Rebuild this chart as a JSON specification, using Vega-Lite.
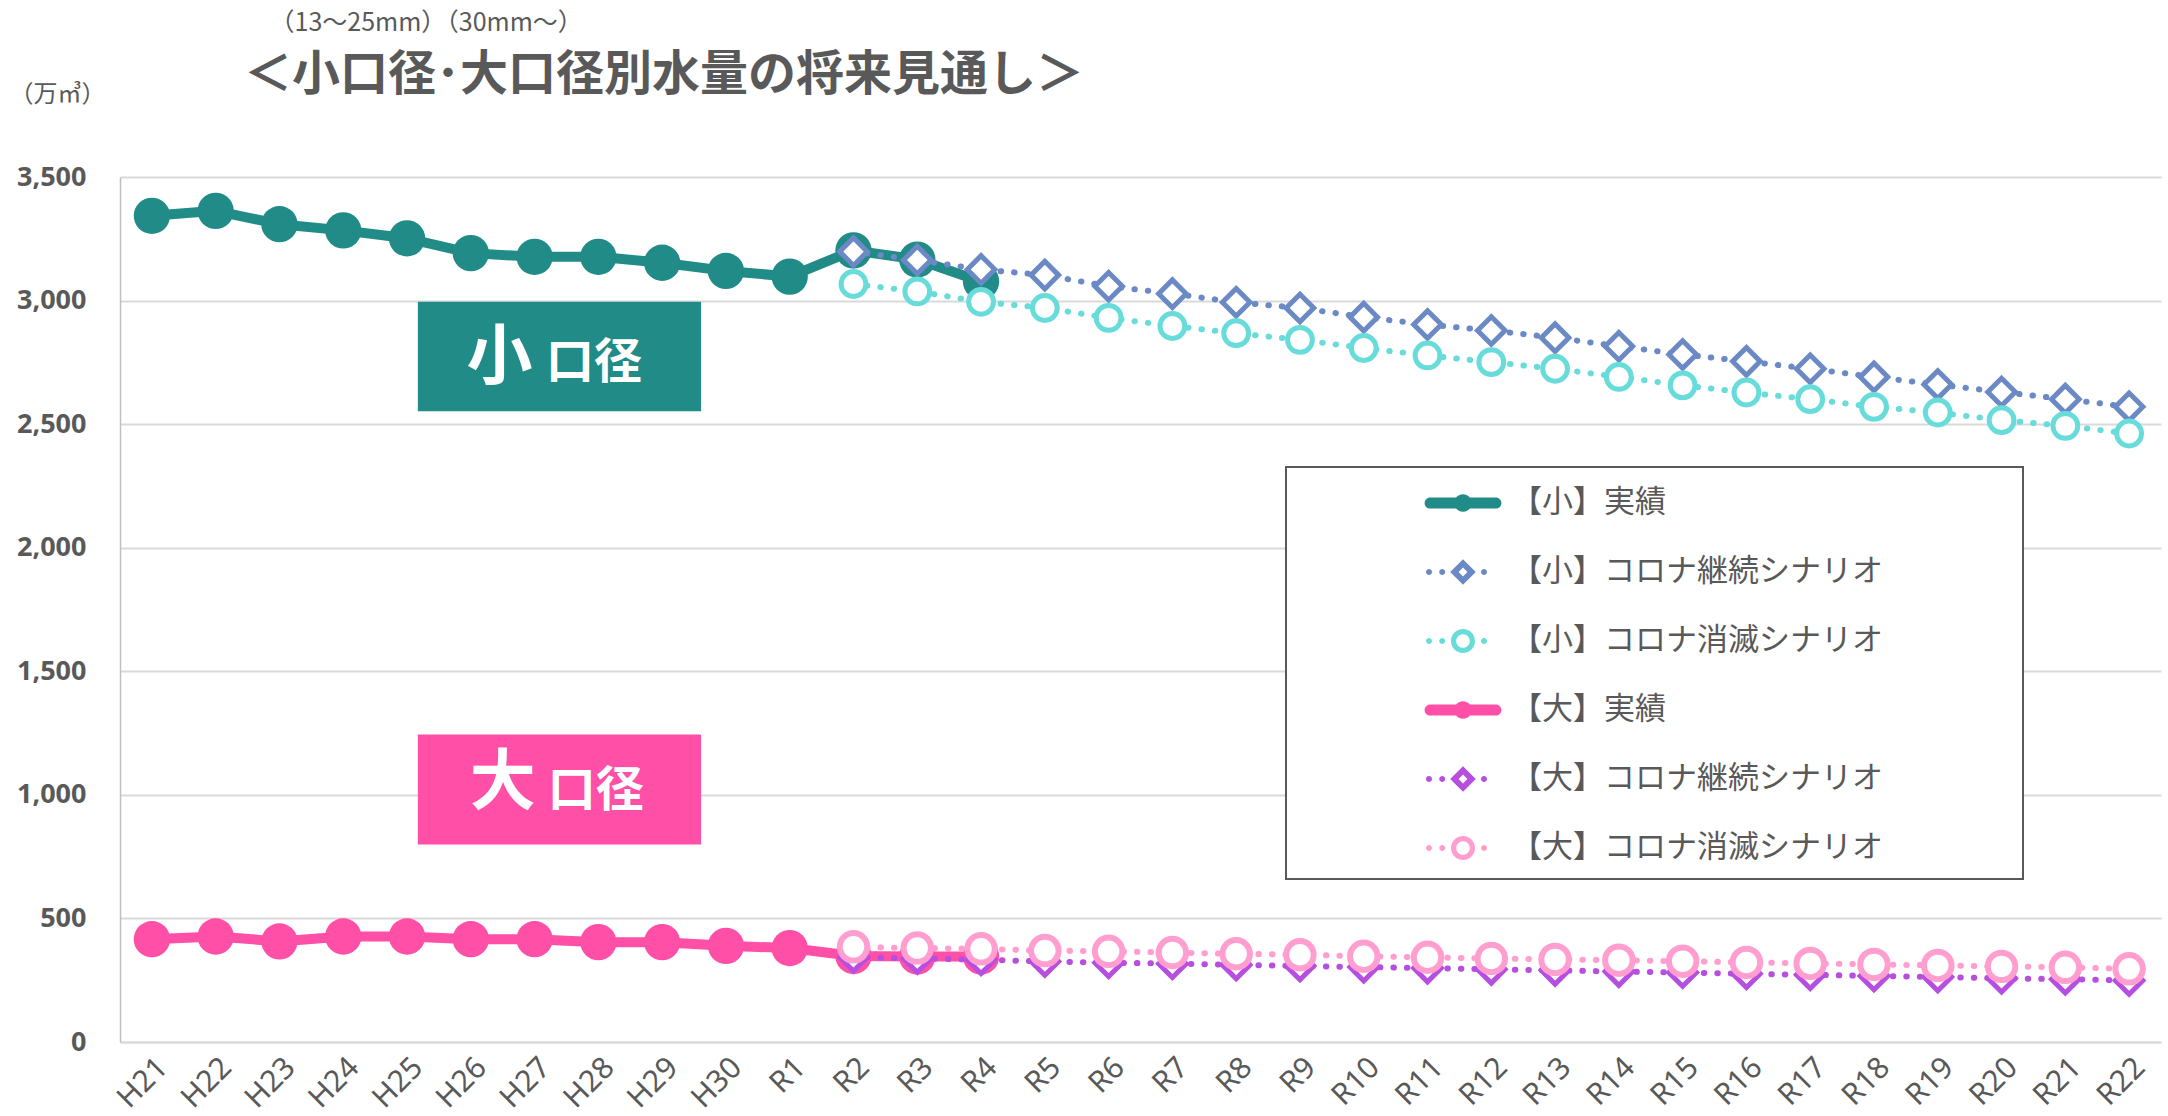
{
  "$schema": "https://vega.github.io/schema/vega-lite/v6.json",
  "width": 2041,
  "height": 865,
  "autosize": {"type": "none"},
  "padding": {"left": 120, "top": 177, "right": 7, "bottom": 74},
  "background": "white",
  "config": {"view": {"stroke": null}, "font": "Noto Sans CJK JP"},
  "title": {
    "text": "＜小口径･大口径別水量の将来見通し＞",
    "anchor": "start",
    "frame": "group",
    "dx": 124,
    "offset": -90,
    "font": "Noto Sans CJK JP",
    "fontSize": 48,
    "fontWeight": "bold",
    "color": "#595959"
  },
  "data": {"values": [
    {"i":0,"series":"【小】実績","v":3343},{"i":1,"series":"【小】実績","v":3363},{"i":2,"series":"【小】実績","v":3309},{"i":3,"series":"【小】実績","v":3284},{"i":4,"series":"【小】実績","v":3252},{"i":5,"series":"【小】実績","v":3192},{"i":6,"series":"【小】実績","v":3177},{"i":7,"series":"【小】実績","v":3177},{"i":8,"series":"【小】実績","v":3153},{"i":9,"series":"【小】実績","v":3120},{"i":10,"series":"【小】実績","v":3097},{"i":11,"series":"【小】実績","v":3203},{"i":12,"series":"【小】実績","v":3166},{"i":13,"series":"【小】実績","v":3077},
    {"i":11,"series":"【小】コロナ継続シナリオ","v":3198},{"i":12,"series":"【小】コロナ継続シナリオ","v":3164},{"i":13,"series":"【小】コロナ継続シナリオ","v":3126},{"i":14,"series":"【小】コロナ継続シナリオ","v":3103},{"i":15,"series":"【小】コロナ継続シナリオ","v":3058},{"i":16,"series":"【小】コロナ継続シナリオ","v":3028},{"i":17,"series":"【小】コロナ継続シナリオ","v":2993},{"i":18,"series":"【小】コロナ継続シナリオ","v":2970},{"i":19,"series":"【小】コロナ継続シナリオ","v":2933},{"i":20,"series":"【小】コロナ継続シナリオ","v":2903},{"i":21,"series":"【小】コロナ継続シナリオ","v":2879},{"i":22,"series":"【小】コロナ継続シナリオ","v":2850},{"i":23,"series":"【小】コロナ継続シナリオ","v":2815},{"i":24,"series":"【小】コロナ継続シナリオ","v":2782},{"i":25,"series":"【小】コロナ継続シナリオ","v":2754},{"i":26,"series":"【小】コロナ継続シナリオ","v":2724},{"i":27,"series":"【小】コロナ継続シナリオ","v":2691},{"i":28,"series":"【小】コロナ継続シナリオ","v":2660},{"i":29,"series":"【小】コロナ継続シナリオ","v":2630},{"i":30,"series":"【小】コロナ継続シナリオ","v":2601},{"i":31,"series":"【小】コロナ継続シナリオ","v":2570},
    {"i":11,"series":"【小】コロナ消滅シナリオ","v":3067},{"i":12,"series":"【小】コロナ消滅シナリオ","v":3037},{"i":13,"series":"【小】コロナ消滅シナリオ","v":2995},{"i":14,"series":"【小】コロナ消滅シナリオ","v":2970},{"i":15,"series":"【小】コロナ消滅シナリオ","v":2930},{"i":16,"series":"【小】コロナ消滅シナリオ","v":2897},{"i":17,"series":"【小】コロナ消滅シナリオ","v":2868},{"i":18,"series":"【小】コロナ消滅シナリオ","v":2841},{"i":19,"series":"【小】コロナ消滅シナリオ","v":2808},{"i":20,"series":"【小】コロナ消滅シナリオ","v":2778},{"i":21,"series":"【小】コロナ消滅シナリオ","v":2751},{"i":22,"series":"【小】コロナ消滅シナリオ","v":2724},{"i":23,"series":"【小】コロナ消滅シナリオ","v":2691},{"i":24,"series":"【小】コロナ消滅シナリオ","v":2657},{"i":25,"series":"【小】コロナ消滅シナリオ","v":2628},{"i":26,"series":"【小】コロナ消滅シナリオ","v":2601},{"i":27,"series":"【小】コロナ消滅シナリオ","v":2570},{"i":28,"series":"【小】コロナ消滅シナリオ","v":2547},{"i":29,"series":"【小】コロナ消滅シナリオ","v":2516},{"i":30,"series":"【小】コロナ消滅シナリオ","v":2493},{"i":31,"series":"【小】コロナ消滅シナリオ","v":2462},
    {"i":0,"series":"【大】実績","v":416},{"i":1,"series":"【大】実績","v":427},{"i":2,"series":"【大】実績","v":407},{"i":3,"series":"【大】実績","v":427},{"i":4,"series":"【大】実績","v":427},{"i":5,"series":"【大】実績","v":416},{"i":6,"series":"【大】実績","v":416},{"i":7,"series":"【大】実績","v":404},{"i":8,"series":"【大】実績","v":404},{"i":9,"series":"【大】実績","v":389},{"i":10,"series":"【大】実績","v":380},{"i":11,"series":"【大】実績","v":348},{"i":12,"series":"【大】実績","v":346},{"i":13,"series":"【大】実績","v":346},
    {"i":11,"series":"【大】コロナ継続シナリオ","v":343},{"i":12,"series":"【大】コロナ継続シナリオ","v":338},{"i":13,"series":"【大】コロナ継続シナリオ","v":333},{"i":14,"series":"【大】コロナ継続シナリオ","v":326},{"i":15,"series":"【大】コロナ継続シナリオ","v":321},{"i":16,"series":"【大】コロナ継続シナリオ","v":317},{"i":17,"series":"【大】コロナ継続シナリオ","v":312},{"i":18,"series":"【大】コロナ継続シナリオ","v":308},{"i":19,"series":"【大】コロナ継続シナリオ","v":303},{"i":20,"series":"【大】コロナ継続シナリオ","v":299},{"i":21,"series":"【大】コロナ継続シナリオ","v":294},{"i":22,"series":"【大】コロナ継続シナリオ","v":290},{"i":23,"series":"【大】コロナ継続シナリオ","v":285},{"i":24,"series":"【大】コロナ継続シナリオ","v":281},{"i":25,"series":"【大】コロナ継続シナリオ","v":276},{"i":26,"series":"【大】コロナ継続シナリオ","v":272},{"i":27,"series":"【大】コロナ継続シナリオ","v":267},{"i":28,"series":"【大】コロナ継続シナリオ","v":263},{"i":29,"series":"【大】コロナ継続シナリオ","v":258},{"i":30,"series":"【大】コロナ継続シナリオ","v":254},{"i":31,"series":"【大】コロナ継続シナリオ","v":249},
    {"i":11,"series":"【大】コロナ消滅シナリオ","v":385},{"i":12,"series":"【大】コロナ消滅シナリオ","v":380},{"i":13,"series":"【大】コロナ消滅シナリオ","v":377},{"i":14,"series":"【大】コロナ消滅シナリオ","v":370},{"i":15,"series":"【大】コロナ消滅シナリオ","v":367},{"i":16,"series":"【大】コロナ消滅シナリオ","v":362},{"i":17,"series":"【大】コロナ消滅シナリオ","v":357},{"i":18,"series":"【大】コロナ消滅シナリオ","v":353},{"i":19,"series":"【大】コロナ消滅シナリオ","v":347},{"i":20,"series":"【大】コロナ消滅シナリオ","v":343},{"i":21,"series":"【大】コロナ消滅シナリオ","v":338},{"i":22,"series":"【大】コロナ消滅シナリオ","v":334},{"i":23,"series":"【大】コロナ消滅シナリオ","v":331},{"i":24,"series":"【大】コロナ消滅シナリオ","v":327},{"i":25,"series":"【大】コロナ消滅シナリオ","v":322},{"i":26,"series":"【大】コロナ消滅シナリオ","v":318},{"i":27,"series":"【大】コロナ消滅シナリオ","v":314},{"i":28,"series":"【大】コロナ消滅シナリオ","v":310},{"i":29,"series":"【大】コロナ消滅シナリオ","v":306},{"i":30,"series":"【大】コロナ消滅シナリオ","v":302},{"i":31,"series":"【大】コロナ消滅シナリオ","v":296}
  ]},
  "encoding": {
    "x": {
      "field": "i", "type": "quantitative",
      "scale": {"domain": [-0.5, 31.5], "nice": false, "zero": false},
      "axis": {
        "values": [0,1,2,3,4,5,6,7,8,9,10,11,12,13,14,15,16,17,18,19,20,21,22,23,24,25,26,27,28,29,30,31],
        "labelExpr": "['H21','H22','H23','H24','H25','H26','H27','H28','H29','H30','R1','R2','R3','R4','R5','R6','R7','R8','R9','R10','R11','R12','R13','R14','R15','R16','R17','R18','R19','R20','R21','R22'][datum.value]",
        "labelAngle": -45,
        "labelFont": "Noto Sans",
        "labelFontSize": 30,
        "labelColor": "#595959",
        "labelPadding": 10,
        "labelOverlap": false,
        "labelBound": false,
        "labelFlush": false,
        "ticks": false,
        "grid": false,
        "domainColor": "#d9d9d9",
        "domainWidth": 2,
        "title": "（13～25mm）（30mm～）",
        "titleX": 149,
        "titleY": -1020,
        "titleAlign": "left",
        "titleBaseline": "middle",
        "titleAngle": 0,
        "titleFont": "Noto Sans CJK JP",
        "titleFontSize": 25,
        "titleFontWeight": "normal",
        "titleColor": "#595959"
      }
    },
    "y": {
      "field": "v", "type": "quantitative",
      "scale": {"domain": [0, 3500], "nice": false},
      "axis": {
        "values": [0,500,1000,1500,2000,2500,3000,3500],
        "format": ",.0f",
        "grid": true,
        "gridColor": "#d9d9d9",
        "gridWidth": 2,
        "domain": true,
        "domainColor": "#bfbfbf",
        "domainWidth": 1.5,
        "ticks": false,
        "labelPadding": 34,
        "labelFont": "Noto Sans",
        "labelFontSize": 27,
        "labelFontWeight": "bold",
        "labelColor": "#595959",
        "title": "（万㎥）",
        "titleAngle": 0,
        "titleX": -63,
        "titleY": -83,
        "titleAlign": "center",
        "titleBaseline": "middle",
        "titleFont": "Noto Sans CJK JP",
        "titleFontSize": 24,
        "titleFontWeight": "normal",
        "titleColor": "#595959"
      }
    }
  },
  "layer": [
    {
      "transform": [{"filter": "datum.i === 0 && datum.series === '【小】実績'"}],
      "mark": {"type": "rect", "fill": "#218B87"},
      "encoding": {"x": {"datum": 4.17, "type": "quantitative"}, "x2": {"datum": 8.61}, "y": {"datum": 2995, "type": "quantitative"}, "y2": {"datum": 2552}}
    },
    {
      "transform": [{"filter": "datum.i === 0 && datum.series === '【小】実績'"}],
      "mark": {"type": "text", "text": "小", "font": "Noto Sans CJK JP", "fontSize": 66, "fontWeight": "bold", "fill": "white", "align": "center", "baseline": "middle"},
      "encoding": {"x": {"datum": 5.45, "type": "quantitative"}, "y": {"datum": 2765, "type": "quantitative"}}
    },
    {
      "transform": [{"filter": "datum.i === 0 && datum.series === '【小】実績'"}],
      "mark": {"type": "text", "text": "口径", "font": "Noto Sans CJK JP", "fontSize": 48, "fontWeight": "bold", "fill": "white", "align": "center", "baseline": "middle"},
      "encoding": {"x": {"datum": 6.93, "type": "quantitative"}, "y": {"datum": 2745, "type": "quantitative"}}
    },
    {
      "transform": [{"filter": "datum.i === 0 && datum.series === '【大】実績'"}],
      "mark": {"type": "rect", "fill": "#FF4FA7"},
      "encoding": {"x": {"datum": 4.17, "type": "quantitative"}, "x2": {"datum": 8.61}, "y": {"datum": 1244, "type": "quantitative"}, "y2": {"datum": 799}}
    },
    {
      "transform": [{"filter": "datum.i === 0 && datum.series === '【大】実績'"}],
      "mark": {"type": "text", "text": "大", "font": "Noto Sans CJK JP", "fontSize": 66, "fontWeight": "bold", "fill": "white", "align": "center", "baseline": "middle"},
      "encoding": {"x": {"datum": 5.5, "type": "quantitative"}, "y": {"datum": 1042, "type": "quantitative"}}
    },
    {
      "transform": [{"filter": "datum.i === 0 && datum.series === '【大】実績'"}],
      "mark": {"type": "text", "text": "口径", "font": "Noto Sans CJK JP", "fontSize": 48, "fontWeight": "bold", "fill": "white", "align": "center", "baseline": "middle"},
      "encoding": {"x": {"datum": 6.96, "type": "quantitative"}, "y": {"datum": 1013, "type": "quantitative"}}
    },
    {
      "transform": [{"filter": "indexof(datum.series, '実績') >= 0"}],
      "mark": {"type": "line", "strokeWidth": 10, "strokeCap": "round", "strokeJoin": "round"},
      "encoding": {
        "stroke": {"field": "series", "type": "nominal", "legend": null,
          "scale": {"domain": ["【大】コロナ消滅シナリオ","【大】コロナ継続シナリオ","【大】実績","【小】コロナ消滅シナリオ","【小】コロナ継続シナリオ","【小】実績"],
                    "range": ["#FF9ECF","#B64FE0","#FF4FA7","#68DCDA","#6B89C4","#218B87"]}}
      }
    },
    {
      "transform": [{"filter": "indexof(datum.series, '実績') >= 0"}],
      "mark": {"type": "point", "shape": "circle", "filled": true, "size": 1320, "opacity": 1, "strokeWidth": 0},
      "encoding": {
        "fill": {"field": "series", "type": "nominal", "legend": null,
          "scale": {"domain": ["【大】コロナ消滅シナリオ","【大】コロナ継続シナリオ","【大】実績","【小】コロナ消滅シナリオ","【小】コロナ継続シナリオ","【小】実績"],
                    "range": ["#FF9ECF","#B64FE0","#FF4FA7","#68DCDA","#6B89C4","#218B87"]}}
      }
    },
    {
      "transform": [{"filter": "indexof(datum.series, '継続') >= 0"}],
      "mark": {"type": "line", "strokeWidth": 6, "strokeDash": [0.5, 13], "strokeCap": "round"},
      "encoding": {
        "stroke": {"field": "series", "type": "nominal", "legend": null,
          "scale": {"domain": ["【大】コロナ消滅シナリオ","【大】コロナ継続シナリオ","【大】実績","【小】コロナ消滅シナリオ","【小】コロナ継続シナリオ","【小】実績"],
                    "range": ["#FF9ECF","#B64FE0","#FF4FA7","#68DCDA","#6B89C4","#218B87"]}}
      }
    },
    {
      "transform": [{"filter": "indexof(datum.series, '継続') >= 0"}],
      "mark": {"type": "point", "shape": "diamond", "filled": false, "fill": "white", "size": 760, "opacity": 1, "strokeWidth": 5, "strokeJoin": "miter"},
      "encoding": {
        "stroke": {"field": "series", "type": "nominal", "legend": null,
          "scale": {"domain": ["【大】コロナ消滅シナリオ","【大】コロナ継続シナリオ","【大】実績","【小】コロナ消滅シナリオ","【小】コロナ継続シナリオ","【小】実績"],
                    "range": ["#FF9ECF","#B64FE0","#FF4FA7","#68DCDA","#6B89C4","#218B87"]}}
      }
    },
    {
      "transform": [{"filter": "indexof(datum.series, '消滅') >= 0"}],
      "mark": {"type": "line", "strokeWidth": 6, "strokeDash": [0.5, 13], "strokeCap": "round"},
      "encoding": {
        "stroke": {"field": "series", "type": "nominal", "legend": null,
          "scale": {"domain": ["【大】コロナ消滅シナリオ","【大】コロナ継続シナリオ","【大】実績","【小】コロナ消滅シナリオ","【小】コロナ継続シナリオ","【小】実績"],
                    "range": ["#FF9ECF","#B64FE0","#FF4FA7","#68DCDA","#6B89C4","#218B87"]}}
      }
    },
    {
      "transform": [{"filter": "indexof(datum.series, '消滅') >= 0"}],
      "mark": {"type": "point", "shape": "circle", "filled": false, "fill": "white", "opacity": 1},
      "encoding": {
        "stroke": {"field": "series", "type": "nominal", "legend": null,
          "scale": {"domain": ["【大】コロナ消滅シナリオ","【大】コロナ継続シナリオ","【大】実績","【小】コロナ消滅シナリオ","【小】コロナ継続シナリオ","【小】実績"],
                    "range": ["#FF9ECF","#B64FE0","#FF4FA7","#68DCDA","#6B89C4","#218B87"]}},
        "size": {"condition": {"test": "indexof(datum.series, '大') >= 0", "value": 755}, "value": 616},
        "strokeWidth": {"condition": {"test": "indexof(datum.series, '大') >= 0", "value": 6}, "value": 5}
      }
    },
    {
      "transform": [{"filter": "datum.v < 0"}],
      "mark": {"type": "point", "filled": true, "opacity": 1, "size": 1600, "strokeWidth": 0},
      "encoding": {
        "color": {"field": "series", "type": "nominal",
          "scale": {"domain": ["【小】実績","【小】コロナ継続シナリオ","【小】コロナ消滅シナリオ","【大】実績","【大】コロナ継続シナリオ","【大】コロナ消滅シナリオ"],
                    "range": ["#218B87","#6B89C4","#68DCDA","#FF4FA7","#B64FE0","#FF9ECF"]},
          "legend": {"orient": "none", "legendX": 1166, "legendY": 290, "title": null, "padding": 16,
            "fillColor": "white", "strokeColor": "#595959", "symbolSize": 1600, "symbolStrokeWidth": 0, "symbolOpacity": 1,
            "symbolOffset": 141, "labelOffset": 28, "labelFont": "Noto Sans CJK JP", "labelFontSize": 31, "labelColor": "#595959",
            "labelLimit": 1000, "rowPadding": 34,
            "labelExpr": "datum.label + '\u3000\u3000\u3000\u3000\u200b'",
            "encode": {"legend": {"update": {"strokeWidth": {"value": 2}}}}}
        },
        "shape": {"field": "series", "type": "nominal",
          "scale": {"domain": ["【小】実績","【小】コロナ継続シナリオ","【小】コロナ消滅シナリオ","【大】実績","【大】コロナ継続シナリオ","【大】コロナ消滅シナリオ"],
            "range": [
              "M-1.64,-0.28L1.64,-0.28A0.28,0.28 0 0 1 1.64,0.28L-1.64,0.28A0.28,0.28 0 0 1 -1.64,-0.28ZM-0.44,0A0.44,0.44 0 1 1 0.44,0A0.44,0.44 0 1 1 -0.44,0Z",
              "M-1.85,0A0.15,0.15 0 1 1 -1.55,0A0.15,0.15 0 1 1 -1.85,0ZM-1.19,0A0.15,0.15 0 1 1 -0.89,0A0.15,0.15 0 1 1 -1.19,0ZM0.9,0A0.15,0.15 0 1 1 1.2,0A0.15,0.15 0 1 1 0.9,0ZM0,-0.64L0.64,0L0,0.64L-0.64,0ZM0,-0.22L-0.22,0L0,0.22L0.22,0Z",
              "M-1.85,0A0.15,0.15 0 1 1 -1.55,0A0.15,0.15 0 1 1 -1.85,0ZM-1.19,0A0.15,0.15 0 1 1 -0.89,0A0.15,0.15 0 1 1 -1.19,0ZM0.9,0A0.15,0.15 0 1 1 1.2,0A0.15,0.15 0 1 1 0.9,0ZM-0.6,0A0.6,0.6 0 1 1 0.6,0A0.6,0.6 0 1 1 -0.6,0ZM-0.34,0A0.34,0.34 0 1 0 0.34,0A0.34,0.34 0 1 0 -0.34,0Z",
              "M-1.64,-0.28L1.64,-0.28A0.28,0.28 0 0 1 1.64,0.28L-1.64,0.28A0.28,0.28 0 0 1 -1.64,-0.28ZM-0.44,0A0.44,0.44 0 1 1 0.44,0A0.44,0.44 0 1 1 -0.44,0Z",
              "M-1.85,0A0.15,0.15 0 1 1 -1.55,0A0.15,0.15 0 1 1 -1.85,0ZM-1.19,0A0.15,0.15 0 1 1 -0.89,0A0.15,0.15 0 1 1 -1.19,0ZM0.9,0A0.15,0.15 0 1 1 1.2,0A0.15,0.15 0 1 1 0.9,0ZM0,-0.64L0.64,0L0,0.64L-0.64,0ZM0,-0.22L-0.22,0L0,0.22L0.22,0Z",
              "M-1.85,0A0.15,0.15 0 1 1 -1.55,0A0.15,0.15 0 1 1 -1.85,0ZM-1.19,0A0.15,0.15 0 1 1 -0.89,0A0.15,0.15 0 1 1 -1.19,0ZM0.9,0A0.15,0.15 0 1 1 1.2,0A0.15,0.15 0 1 1 0.9,0ZM-0.6,0A0.6,0.6 0 1 1 0.6,0A0.6,0.6 0 1 1 -0.6,0ZM-0.34,0A0.34,0.34 0 1 0 0.34,0A0.34,0.34 0 1 0 -0.34,0Z"
            ]}
        }
      }
    }
  ]
}
